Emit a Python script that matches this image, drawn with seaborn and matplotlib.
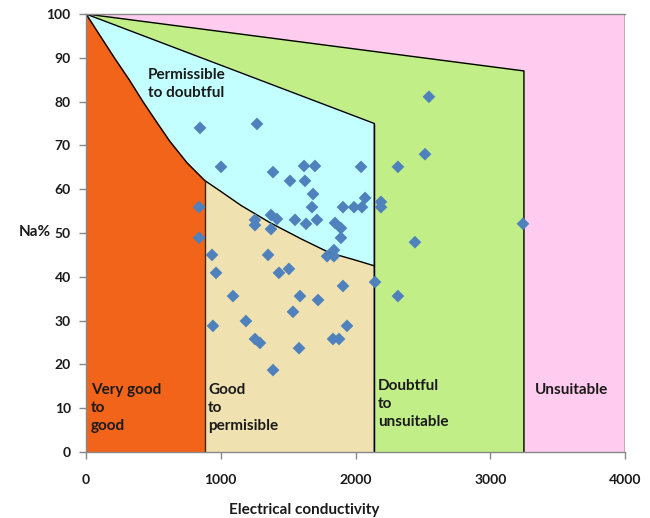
import numpy as np
import pandas as pd
import matplotlib
matplotlib.use("Agg")
import matplotlib.pyplot as plt
import seaborn as sns

# punkty pomiarowe: przewodnosc [uS/cm] i Na%
ec = [846, 1269, 1002, 1388, 1618, 1699, 2041, 2315, 1514, 1625,
      1685, 1677, 1907, 1989, 2048, 2071, 2189, 2189, 2516, 2545,
      3243, 839, 839, 1373, 1417, 1254, 1254, 1373, 1551, 1633,
      1714, 1848, 1892, 1892, 1840, 1789, 1840, 2441, 935, 1351,
      965, 1432, 1506, 1907, 2145, 2315, 1091, 1588, 1722, 1536,
      942, 1187, 1254, 1291, 1937, 1833, 1878, 1581, 1388]
na = [74.0, 74.9, 65.1, 63.9, 65.3, 65.3, 65.1, 65.1, 61.9, 61.9,
      58.9, 55.9, 55.9, 55.9, 55.9, 58.0, 57.1, 55.9, 68.0, 81.1,
      52.1, 55.9, 48.9, 54.1, 53.2, 53.0, 51.8, 50.9, 53.0, 52.1,
      53.0, 52.3, 51.1, 48.9, 46.1, 44.7, 44.7, 47.9, 45.0, 45.0,
      40.9, 40.9, 41.8, 37.9, 38.8, 35.6, 35.6, 35.6, 34.7, 32.0,
      28.8, 29.9, 25.8, 24.9, 28.8, 25.8, 25.8, 23.7, 18.7]

# granice klas (diagram Wilcoxa)
granice_ec = [880, 2140, 3250, 4000]
krzywa_ec = [0, 105, 210, 320, 422, 520, 620, 750, 880,
             1000, 1150, 1363, 1600, 1807, 2000, 2140]
krzywa_na = [100, 95, 90, 85, 80, 75.5, 71, 66, 62,
             59.5, 56.3, 52.4, 48.6, 45.5, 43.8, 42.5]
gora_cyan = [100, 75]
gora_green = [100, 87]

kolory = {"orange": "#F26419", "tan": "#EFE2B0", "cyan": "#C4FFFF",
          "green": "#C2EE88", "pink": "#FFCCF0"}

df = pd.DataFrame({"EC": ec, "Na": na})

sns.set_theme(style="white")
plt.rcParams["font.family"] = ["Lato", "DejaVu Sans"]

fig = plt.figure(figsize=(6.5, 5.18), dpi=100)
ax = fig.add_axes([86 / 650, 66 / 518, 539 / 650, 438 / 518])

e1, e2, e3, e4 = granice_ec
kx = np.array(krzywa_ec)
ky = np.array(krzywa_na)

# strefy - od gory do dolu
ax.fill([0, e4, e4, 0], [100, 100, 0, 0], color=kolory["pink"], zorder=1)
ax.fill([0, e3, e3, 0], [gora_green[0], gora_green[1], 0, 0], color=kolory["green"], zorder=2)
ax.fill([0, e2, e2, 0], [gora_cyan[0], gora_cyan[1], 0, 0], color=kolory["cyan"], zorder=3)
ax.fill(np.r_[kx, e2, 0], np.r_[ky, 0, 0], color=kolory["tan"], zorder=4)
m = kx <= e1
ax.fill(np.r_[kx[m], e1, 0], np.r_[ky[m], 0, 0], color=kolory["orange"], zorder=5)

lw = 1.0
ax.plot([0, e3, e3], [gora_green[0], gora_green[1], 0], color="black", lw=lw, zorder=6)
ax.plot([0, e2, e2], [gora_cyan[0], gora_cyan[1], 0], color="black", lw=lw, zorder=6)
ax.plot(kx, ky, color="black", lw=lw, zorder=6)
ax.plot([e1, e1], [ky[m][-1], 0], color="#3a2a1a", lw=lw, zorder=6)
ax.plot([e2, e2], [gora_cyan[1], 0], color="black", lw=lw, zorder=6)
ax.plot([e4, e4], [0, 100], color="black", lw=lw, zorder=6)

sns.scatterplot(data=df, x="EC", y="Na", marker="D", s=42, color="#4F81BD",
                edgecolor="none", ax=ax, zorder=7)

# opisy stref
opis = dict(fontsize=11, fontweight="bold", color="#1a1a1a", zorder=8,
            linespacing=1.35, va="top", ha="left")
ax.text(460, 87.6, "Permissible\nto doubtful", **opis)
ax.text(37, 15.7, "Very good\nto\ngood", **opis)
ax.text(905, 15.7, "Good\nto\npermisible", **opis)
ax.text(2167, 16.6, "Doubtful\nto\nunsuitable", **opis)
ax.text(3332, 15.7, "Unsuitable", **opis)

ax.set_xlim(0, 4000)
ax.set_ylim(0, 100)
ax.set_xticks([0, 1000, 2000, 3000, 4000])
ax.set_yticks(range(0, 101, 10))
ax.tick_params(axis="both", which="both", length=5, width=1, color="#888888",
               direction="out", labelsize=10)
ax.tick_params(axis="x", pad=11)
ax.tick_params(axis="y", pad=6)
for lab in ax.get_xticklabels() + ax.get_yticklabels():
    lab.set_fontweight("bold")
    lab.set_color("#1a1a1a")
ax.xaxis.set_ticks_position("bottom")
ax.yaxis.set_ticks_position("left")

for s in ["left", "bottom", "top"]:
    ax.spines[s].set_color("#888888")
    ax.spines[s].set_linewidth(1)
    ax.spines[s].set_zorder(9)
ax.spines["right"].set_visible(False)

ax.set_xlabel("")
ax.set_ylabel("")
fig.text(304 / 650, 1 - 510 / 518, "Electrical conductivity", ha="center", va="center",
         fontsize=11, fontweight="bold", color="#1a1a1a")
fig.text(35 / 650, 1 - 232 / 518, "Na%", ha="center", va="center",
         fontsize=11, fontweight="bold", color="#1a1a1a")

fig.savefig("out.png", dpi=100)
